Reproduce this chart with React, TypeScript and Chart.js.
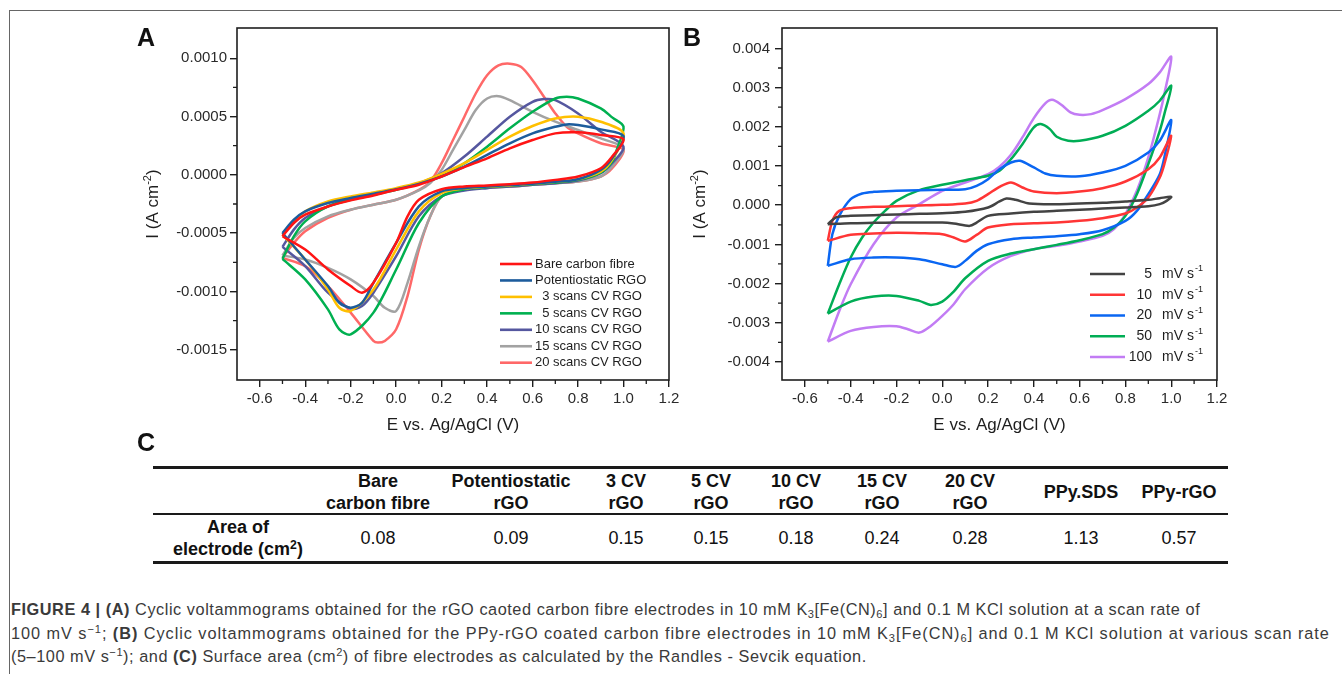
import React, { useEffect, useRef } from 'react';
import { Chart, registerables } from 'chart.js';

Chart.register(...registerables);

const FONT = '"Liberation Sans", Arial, Helvetica, sans-serif';
const INK = '#1e1e1e';
const TICK_INK = '#2a2a2a';

// ---------- shared potential axis (V vs Ag/AgCl) ----------
const potentialMin = -0.7;
const potentialMax = 1.2;
const potentialTicks = [-0.6, -0.4, -0.2, 0, 0.2, 0.4, 0.6, 0.8, 1.0, 1.2];
const potentialMinorTicks = [-0.5, -0.3, -0.1, 0.1, 0.3, 0.5, 0.7, 0.9, 1.1];

// ---------- Panel A: current axis ----------
const aCurrentMin = -0.00176;
const aCurrentMax = 0.00126;
const aCurrentTicks = [-0.0015, -0.001, -0.0005, 0, 0.0005, 0.001];
const aCurrentMinorTicks = [-0.00125, -0.00075, -0.00025, 0.00025, 0.00075];

// ---------- Panel A: series (E in V, I in µA cm^-2) ----------
const panelALabels = ['Bare carbon fibre', 'Potentiostatic RGO', '  3 scans CV RGO', '  5 scans CV RGO', '10 scans CV RGO', '15 scans CV RGO', '20 scans CV RGO'];
const panelAColors = ['#ff1414', '#1d5c9c', '#ffc000', '#00b050', '#55579f', '#a2a2a2', '#ff6868'];

const bareE = [-0.5, -0.45, -0.4, -0.3, -0.2, -0.1, 0, 0.1, 0.2, 0.3, 0.4, 0.5, 0.6, 0.7, 0.8, 0.9, 1.0, 0.95, 0.9, 0.8, 0.7, 0.6, 0.5, 0.4, 0.3, 0.2, 0.1, 0.05, 0, -0.1, -0.15, -0.2, -0.3, -0.4, -0.5];
const bareI = [-527, -413, -342, -271, -219, -177, -128, -85, -14, 66, 142, 228, 299, 356, 365, 342, 305, 157, 57, -14, -43, -66, -80, -91, -100, -123, -214, -356, -584, -926, -1011, -954, -812, -641, -527];

const potE = [-0.5, -0.45, -0.4, -0.3, -0.2, -0.1, 0, 0.1, 0.2, 0.3, 0.4, 0.5, 0.6, 0.7, 0.75, 0.8, 0.9, 1.0, 0.95, 0.9, 0.8, 0.7, 0.6, 0.5, 0.4, 0.3, 0.2, 0.1, 0, -0.1, -0.15, -0.2, -0.25, -0.3, -0.4, -0.5];
const potI = [-499, -385, -313, -242, -199, -162, -123, -77, -14, 71, 171, 271, 356, 413, 433, 427, 390, 333, 142, 43, -37, -60, -77, -88, -100, -114, -142, -271, -584, -926, -1097, -1140, -1097, -954, -726, -499];

const cv3E = [-0.5, -0.45, -0.4, -0.3, -0.2, -0.1, 0, 0.1, 0.2, 0.3, 0.4, 0.5, 0.6, 0.7, 0.8, 0.9, 1.0, 0.95, 0.9, 0.8, 0.7, 0.6, 0.5, 0.4, 0.3, 0.2, 0.1, 0, -0.1, -0.2, -0.25, -0.3, -0.4, -0.5];
const cv3I = [-513, -399, -313, -228, -185, -151, -114, -66, 9, 100, 214, 328, 419, 484, 499, 456, 356, 128, 28, -37, -60, -77, -91, -100, -117, -157, -313, -641, -983, -1168, -1140, -983, -726, -513];

const cv5E = [-0.5, -0.45, -0.4, -0.3, -0.2, -0.1, 0, 0.1, 0.2, 0.3, 0.4, 0.5, 0.6, 0.7, 0.75, 0.8, 0.9, 0.95, 1.0, 0.97, 0.95, 0.9, 0.8, 0.7, 0.6, 0.5, 0.4, 0.3, 0.2, 0.1, 0, -0.1, -0.2, -0.25, -0.3, -0.4, -0.5];
const cv5I = [-721, -527, -399, -271, -214, -171, -128, -77, -9, 100, 242, 399, 541, 655, 670, 655, 570, 493, 413, 214, 114, 20, -43, -66, -80, -94, -105, -123, -185, -413, -812, -1182, -1368, -1325, -1154, -897, -721];

const cv10E = [-0.5, -0.45, -0.4, -0.3, -0.2, -0.1, 0, 0.1, 0.2, 0.3, 0.4, 0.5, 0.6, 0.65, 0.7, 0.8, 0.9, 1.0, 0.95, 0.9, 0.8, 0.7, 0.6, 0.5, 0.4, 0.3, 0.2, 0.1, 0, -0.1, -0.15, -0.2, -0.3, -0.4, -0.5];
const cv10I = [-618, -470, -370, -271, -199, -157, -123, -71, 14, 157, 328, 499, 627, 650, 641, 527, 370, 242, 100, 14, -48, -71, -85, -100, -114, -134, -185, -356, -698, -1011, -1125, -1148, -1011, -783, -618];

const cv15E = [-0.5, -0.45, -0.4, -0.3, -0.2, -0.1, 0, 0.1, 0.15, 0.2, 0.25, 0.3, 0.35, 0.4, 0.45, 0.5, 0.6, 0.7, 0.8, 0.9, 1.0, 0.95, 0.9, 0.8, 0.7, 0.6, 0.5, 0.4, 0.3, 0.2, 0.15, 0.1, 0.05, 0, -0.05, -0.1, -0.2, -0.3, -0.4, -0.5];
const cv15I = [-692, -541, -456, -356, -299, -256, -214, -134, -71, 43, 214, 385, 556, 655, 675, 641, 541, 456, 385, 313, 228, 71, -14, -57, -71, -85, -100, -108, -123, -185, -356, -613, -926, -1168, -1140, -1040, -897, -798, -726, -692];

const cv20E = [-0.5, -0.45, -0.4, -0.3, -0.2, -0.1, 0, 0.1, 0.15, 0.2, 0.25, 0.3, 0.35, 0.4, 0.45, 0.5, 0.55, 0.6, 0.65, 0.7, 0.75, 0.8, 0.9, 1.0, 0.95, 0.9, 0.8, 0.7, 0.6, 0.5, 0.4, 0.3, 0.2, 0.15, 0.1, 0.05, 0, -0.05, -0.08, -0.1, -0.2, -0.3, -0.4, -0.5];
const cv20I = [-712, -584, -484, -370, -299, -256, -214, -128, -57, 100, 299, 499, 698, 855, 940, 954, 926, 812, 670, 527, 413, 356, 271, 214, 57, -14, -57, -71, -85, -100, -108, -123, -185, -356, -641, -1040, -1325, -1425, -1439, -1425, -1182, -954, -783, -712];

// ---------- Panel B: current axis ----------
const bCurrentMin = -0.00446;
const bCurrentMax = 0.00452;
const bCurrentTicks = [-0.004, -0.003, -0.002, -0.001, 0, 0.001, 0.002, 0.003, 0.004];
const bCurrentMinorTicks = [-0.0035, -0.0025, -0.0015, -0.0005, 0.0005, 0.0015, 0.0025, 0.0035];

// ---------- Panel B: series (scan rate in mV s^-1; E in V, I in µA cm^-2) ----------
const scanRates = ['5', '10', '20', '50', '100'];
const scanColors = ['#434343', '#ff3535', '#0a66f2', '#00ad55', '#c27cf4'];

const s5E = [-0.5, -0.47, -0.45, -0.4, -0.3, -0.2, -0.1, 0, 0.1, 0.2, 0.25, 0.28, 0.32, 0.38, 0.5, 0.6, 0.7, 0.8, 0.9, 0.95, 1.0, 0.98, 0.95, 0.9, 0.8, 0.7, 0.6, 0.5, 0.4, 0.3, 0.2, 0.15, 0.12, 0.05, 0, -0.1, -0.2, -0.3, -0.4, -0.5];
const s5I = [-485, -332, -289, -272, -255, -238, -221, -204, -170, -60, 94, 170, 136, 43, 26, 43, 60, 94, 136, 179, 213, 111, 26, -26, -60, -85, -119, -145, -170, -213, -272, -443, -528, -468, -443, -443, -443, -451, -460, -485];

const s10E = [-0.5, -0.48, -0.45, -0.4, -0.3, -0.2, -0.1, 0, 0.1, 0.15, 0.2, 0.25, 0.3, 0.35, 0.4, 0.5, 0.6, 0.7, 0.8, 0.9, 0.95, 1.0, 0.97, 0.95, 0.9, 0.85, 0.8, 0.7, 0.6, 0.5, 0.4, 0.3, 0.2, 0.15, 0.1, 0.05, 0, -0.1, -0.2, -0.3, -0.4, -0.5];
const s10I = [-911, -400, -145, -77, -43, -26, -9, 9, 43, 111, 281, 468, 579, 451, 349, 306, 349, 434, 604, 919, 1217, 1770, 1047, 706, 196, -60, -213, -332, -400, -443, -460, -485, -570, -757, -928, -825, -740, -715, -706, -723, -757, -911];

const s20E = [-0.5, -0.48, -0.45, -0.4, -0.35, -0.3, -0.2, -0.1, 0, 0.1, 0.15, 0.2, 0.25, 0.3, 0.34, 0.4, 0.45, 0.5, 0.6, 0.7, 0.8, 0.9, 0.95, 1.0, 0.97, 0.95, 0.9, 0.85, 0.8, 0.7, 0.6, 0.5, 0.4, 0.3, 0.2, 0.15, 0.1, 0.06, 0, -0.1, -0.2, -0.3, -0.4, -0.5];
const s20I = [-1549, -740, -272, 153, 298, 340, 366, 383, 391, 408, 494, 664, 919, 1089, 1132, 962, 808, 749, 740, 834, 1004, 1345, 1642, 2170, 1217, 791, 281, -145, -400, -638, -740, -791, -825, -868, -996, -1166, -1421, -1574, -1506, -1379, -1336, -1336, -1379, -1549];

const s50E = [-0.5, -0.45, -0.4, -0.35, -0.3, -0.25, -0.2, -0.1, 0, 0.1, 0.2, 0.25, 0.3, 0.35, 0.4, 0.43, 0.47, 0.5, 0.55, 0.6, 0.7, 0.8, 0.9, 0.95, 1.0, 0.97, 0.95, 0.9, 0.85, 0.8, 0.75, 0.7, 0.6, 0.5, 0.4, 0.3, 0.2, 0.1, 0.05, 0, -0.05, -0.1, -0.2, -0.3, -0.4, -0.5];
const s50I = [-2766, -2017, -1336, -825, -443, -145, 111, 383, 519, 638, 749, 877, 1174, 1557, 1983, 2068, 1940, 1745, 1642, 1642, 1770, 2025, 2408, 2664, 3047, 2323, 1898, 1047, 281, -272, -570, -740, -894, -1013, -1123, -1234, -1421, -1864, -2204, -2459, -2544, -2442, -2315, -2332, -2459, -2766];

const s100E = [-0.5, -0.45, -0.4, -0.3, -0.2, -0.1, 0, 0.1, 0.2, 0.25, 0.3, 0.35, 0.4, 0.45, 0.48, 0.52, 0.56, 0.6, 0.65, 0.7, 0.8, 0.9, 0.95, 1.0, 0.97, 0.95, 0.9, 0.85, 0.8, 0.75, 0.7, 0.6, 0.5, 0.4, 0.3, 0.2, 0.1, 0.05, 0, -0.05, -0.1, -0.15, -0.2, -0.3, -0.4, -0.5];
const s100I = [-3481, -2698, -2017, -996, -315, 26, 366, 579, 791, 979, 1285, 1728, 2221, 2596, 2689, 2562, 2366, 2306, 2323, 2425, 2706, 3089, 3387, 3787, 2834, 2323, 1217, 366, -230, -613, -783, -928, -1038, -1123, -1294, -1608, -2145, -2527, -2825, -3081, -3251, -3166, -3089, -3106, -3208, -3481];

// ---------- Panel C: table ----------
const tableHeads = [['Bare', 'carbon fibre'], ['Potentiostatic', 'rGO'], ['3 CV', 'rGO'], ['5 CV', 'rGO'], ['10 CV', 'rGO'], ['15 CV', 'rGO'], ['20 CV', 'rGO'], ['PPy.SDS'], ['PPy-rGO']];
const tableValues = ['0.08', '0.09', '0.15', '0.15', '0.18', '0.24', '0.28', '1.13', '0.57'];
const colCenters = [378, 511, 626, 711, 796, 882, 970, 1081, 1179];

const uA = 1e-6;

function drawYTitle(ctx: CanvasRenderingContext2D, x: number, y: number) {
  ctx.save();
  ctx.translate(x, y);
  ctx.rotate(-Math.PI / 2);
  ctx.fillStyle = INK;
  ctx.textAlign = 'left';
  ctx.textBaseline = 'alphabetic';
  const main = `17px ${FONT}`;
  const sup = `11px ${FONT}`;
  ctx.font = main;
  const w1 = ctx.measureText('I (A cm').width;
  const w3 = ctx.measureText(')').width;
  ctx.font = sup;
  const w2 = ctx.measureText('-2').width;
  let cx = -(w1 + w2 + w3) / 2;
  const base = 6;
  ctx.font = main;
  ctx.fillText('I (A cm', cx, base);
  cx += w1;
  ctx.font = sup;
  ctx.fillText('-2', cx, base - 7);
  cx += w2;
  ctx.font = main;
  ctx.fillText(')', cx, base);
  ctx.restore();
}

function drawLegendA(ctx: CanvasRenderingContext2D, ca: any) {
  ctx.font = `13px ${FONT}`;
  ctx.textBaseline = 'middle';
  ctx.textAlign = 'left';
  panelALabels.forEach((lab, i) => {
    const y = ca.top + 236 + 16.45 * i;
    ctx.strokeStyle = panelAColors[i];
    ctx.lineWidth = 2.6;
    ctx.beginPath();
    ctx.moveTo(ca.right - 169, y);
    ctx.lineTo(ca.right - 137, y);
    ctx.stroke();
    ctx.fillStyle = INK;
    ctx.fillText(lab, ca.right - 134, y);
  });
}

function drawLegendB(ctx: CanvasRenderingContext2D, ca: any) {
  ctx.textBaseline = 'middle';
  scanRates.forEach((lab, i) => {
    const y = ca.top + 246 + 20.75 * i;
    ctx.strokeStyle = scanColors[i];
    ctx.lineWidth = 2.6;
    ctx.beginPath();
    ctx.moveTo(ca.right - 127, y);
    ctx.lineTo(ca.right - 92, y);
    ctx.stroke();
    ctx.fillStyle = INK;
    ctx.font = `14px ${FONT}`;
    ctx.textAlign = 'right';
    ctx.fillText(lab, ca.right - 65, y);
    ctx.textAlign = 'left';
    ctx.fillText('mV s', ca.right - 55, y);
    const w = ctx.measureText('mV s').width;
    ctx.font = `9px ${FONT}`;
    ctx.fillText('-1', ca.right - 55 + w + 1, y - 5);
  });
}

type Spec = {
  key: string;
  left: number; top: number; w: number; h: number;
  padTop: number; padRight: number; yWidth: number; xHeight: number;
  yMin: number; yMax: number; yTicks: number[]; yMinor: number[]; yDigits: number; yPad: number;
  yTitleX: number;
  E: number[][]; I: number[][]; colors: string[]; labels: string[];
  legend: (ctx: CanvasRenderingContext2D, ca: any) => void;
};

function buildConfig(s: Spec): any {
  const datasets = s.E.map((E, k) => ({
    label: s.labels[k],
    data: E.map((e, i) => ({ x: e, y: s.I[k][i] * uA })),
    borderColor: s.colors[k],
    backgroundColor: s.colors[k],
    showLine: true,
    fill: false,
    pointRadius: 0,
    pointHoverRadius: 0,
    borderWidth: 2.5,
    tension: 0.3,
  }));
  const decor = {
    id: 'decor' + s.key,
    afterDraw(chart: any) {
      const { ctx, chartArea: ca, scales } = chart;
      ctx.save();
      ctx.strokeStyle = INK;
      ctx.lineWidth = 1.6;
      ctx.strokeRect(ca.left, ca.top, ca.right - ca.left, ca.bottom - ca.top);
      ctx.lineWidth = 1.3;
      ctx.beginPath();
      for (const v of potentialMinorTicks) {
        const x = scales.x.getPixelForValue(v);
        ctx.moveTo(x, ca.bottom);
        ctx.lineTo(x, ca.bottom + 4);
      }
      for (const v of s.yMinor) {
        const y = scales.y.getPixelForValue(v);
        ctx.moveTo(ca.left, y);
        ctx.lineTo(ca.left - 4, y);
      }
      ctx.stroke();
      drawYTitle(ctx, s.yTitleX, (ca.top + ca.bottom) / 2);
      s.legend(ctx, ca);
      ctx.restore();
    },
  };
  return {
    type: 'scatter',
    data: { datasets },
    plugins: [decor],
    options: {
      responsive: false,
      maintainAspectRatio: false,
      animation: false,
      layout: { padding: { top: s.padTop, right: s.padRight, left: 0, bottom: 0 } },
      plugins: { legend: { display: false }, tooltip: { enabled: false } },
      scales: {
        x: {
          type: 'linear',
          min: potentialMin,
          max: potentialMax,
          afterBuildTicks: (sc: any) => { sc.ticks = potentialTicks.map((v) => ({ value: v })); },
          afterFit: (sc: any) => { sc.height = s.xHeight; },
          ticks: {
            callback: (v: any) => Number(v).toFixed(1),
            font: { family: FONT, size: 15 },
            color: TICK_INK,
            padding: 3,
            autoSkip: false,
            maxRotation: 0,
            minRotation: 0,
          },
          grid: { display: true, drawOnChartArea: false, drawTicks: true, tickLength: 7, color: INK, lineWidth: 1.4 },
          border: { display: false },
          title: { display: true, text: 'E vs. Ag/AgCl (V)', font: { family: FONT, size: 17 }, color: INK, padding: { top: 0, bottom: 6 } },
        },
        y: {
          type: 'linear',
          min: s.yMin,
          max: s.yMax,
          afterBuildTicks: (sc: any) => { sc.ticks = s.yTicks.map((v) => ({ value: v })); },
          afterFit: (sc: any) => { sc.width = s.yWidth; },
          ticks: {
            callback: (v: any) => Number(v).toFixed(s.yDigits),
            font: { family: FONT, size: 15 },
            color: TICK_INK,
            padding: s.yPad,
            autoSkip: false,
          },
          grid: { display: true, drawOnChartArea: false, drawTicks: true, tickLength: 7, color: INK, lineWidth: 1.4 },
          border: { display: false },
          title: { display: false },
        },
      },
    },
  };
}

function CVChart({ spec }: { spec: Spec }) {
  const ref = useRef<HTMLCanvasElement>(null);
  useEffect(() => {
    const chart = new Chart(ref.current as HTMLCanvasElement, buildConfig(spec));
    return () => chart.destroy();
  }, []);
  return (
    <canvas
      ref={ref}
      width={spec.w}
      height={spec.h}
      style={{ position: 'absolute', left: spec.left, top: spec.top, width: spec.w, height: spec.h }}
    />
  );
}

const specA: Spec = {
  key: 'A', left: 100, top: 12, w: 590, h: 430,
  padTop: 16, padRight: 21, yWidth: 137, xHeight: 62,
  yMin: aCurrentMin, yMax: aCurrentMax, yTicks: aCurrentTicks, yMinor: aCurrentMinorTicks, yDigits: 4, yPad: 3,
  yTitleX: 52,
  E: [bareE, potE, cv3E, cv5E, cv10E, cv15E, cv20E],
  I: [bareI, potI, cv3I, cv5I, cv10I, cv15I, cv20I],
  colors: panelAColors, labels: panelALabels, legend: drawLegendA,
};

const specB: Spec = {
  key: 'B', left: 660, top: 12, w: 600, h: 430,
  padTop: 16, padRight: 43, yWidth: 122, xHeight: 62,
  yMin: bCurrentMin, yMax: bCurrentMax, yTicks: bCurrentTicks, yMinor: bCurrentMinorTicks, yDigits: 3, yPad: 5,
  yTitleX: 39,
  E: [s5E, s10E, s20E, s50E, s100E],
  I: [s5I, s10I, s20I, s50I, s100I],
  colors: scanColors, labels: scanRates, legend: drawLegendB,
};

const subSt: React.CSSProperties = { fontSize: '0.68em', verticalAlign: '-0.25em', lineHeight: 0 };
const supSt: React.CSSProperties = { fontSize: '0.68em', verticalAlign: '0.5em', lineHeight: 0 };

export default function App() {
  const panelLabel = (t: string, left: number, top: number) => (
    <div style={{ position: 'absolute', left, top, fontSize: 25, lineHeight: '25px', fontWeight: 'bold', color: '#111' }}>{t}</div>
  );
  const capLine = (ls: number): React.CSSProperties => ({ letterSpacing: ls + 'px' });
  return (
    <div style={{ position: 'absolute', left: 0, top: 0, width: 1342, height: 674, background: '#fff', fontFamily: FONT, overflow: 'hidden' }}>
      <div style={{ position: 'absolute', left: 9, top: 10, width: 1333, height: 664, borderTop: '1px solid #666', borderLeft: '1px solid #666' }} />
      <CVChart spec={specA} />
      <CVChart spec={specB} />
      {panelLabel('A', 137, 25)}
      {panelLabel('B', 683, 25)}
      {panelLabel('C', 137, 430)}

      <div style={{ position: 'absolute', left: 153, top: 466, width: 1075, height: 2.5, background: '#1a1a1a' }} />
      <div style={{ position: 'absolute', left: 153, top: 513, width: 1075, height: 2, background: '#1a1a1a' }} />
      <div style={{ position: 'absolute', left: 153, top: 561, width: 1075, height: 2.5, background: '#1a1a1a' }} />
      {tableHeads.map((lines, k) => (
        <div key={k} style={{ position: 'absolute', left: colCenters[k] - 80, width: 160, top: lines.length === 2 ? 470 : 481, textAlign: 'center', fontWeight: 'bold', fontSize: 18, lineHeight: '22px', color: '#111' }}>
          {lines.map((l, j) => <div key={j}>{l}</div>)}
        </div>
      ))}
      <div style={{ position: 'absolute', left: 158, width: 160, top: 516, textAlign: 'center', fontWeight: 'bold', fontSize: 18, lineHeight: '22px', color: '#111' }}>
        <div>Area of</div>
        <div>electrode (cm<sup style={supSt}>2</sup>)</div>
      </div>
      {tableValues.map((v, k) => (
        <div key={k} style={{ position: 'absolute', left: colCenters[k] - 60, width: 120, top: 527, textAlign: 'center', fontSize: 18, lineHeight: '22px', color: '#111' }}>{v}</div>
      ))}

      <div style={{ position: 'absolute', left: 11, top: 598, fontSize: 16.3, lineHeight: '23.5px', color: '#3a3a3a', whiteSpace: 'nowrap' }}>
        <div style={capLine(0.55)}><b>FIGURE 4 | (A)</b> Cyclic voltammograms obtained for the rGO caoted carbon fibre electrodes in 10 mM K<sub style={subSt}>3</sub>[Fe(CN)<sub style={subSt}>6</sub>] and 0.1 M KCl solution at a scan rate of</div>
        <div style={capLine(0.95)}>100 mV s<sup style={supSt}>−1</sup>; <b>(B)</b> Cyclic voltammograms obtained for the PPy-rGO coated carbon fibre electrodes in 10 mM K<sub style={subSt}>3</sub>[Fe(CN)<sub style={subSt}>6</sub>] and 0.1 M KCl solution at various scan rate</div>
        <div style={capLine(0.55)}>(5–100 mV s<sup style={supSt}>−1</sup>); and <b>(C)</b> Surface area (cm<sup style={supSt}>2</sup>) of fibre electrodes as calculated by the Randles - Sevcik equation.</div>
      </div>
    </div>
  );
}
